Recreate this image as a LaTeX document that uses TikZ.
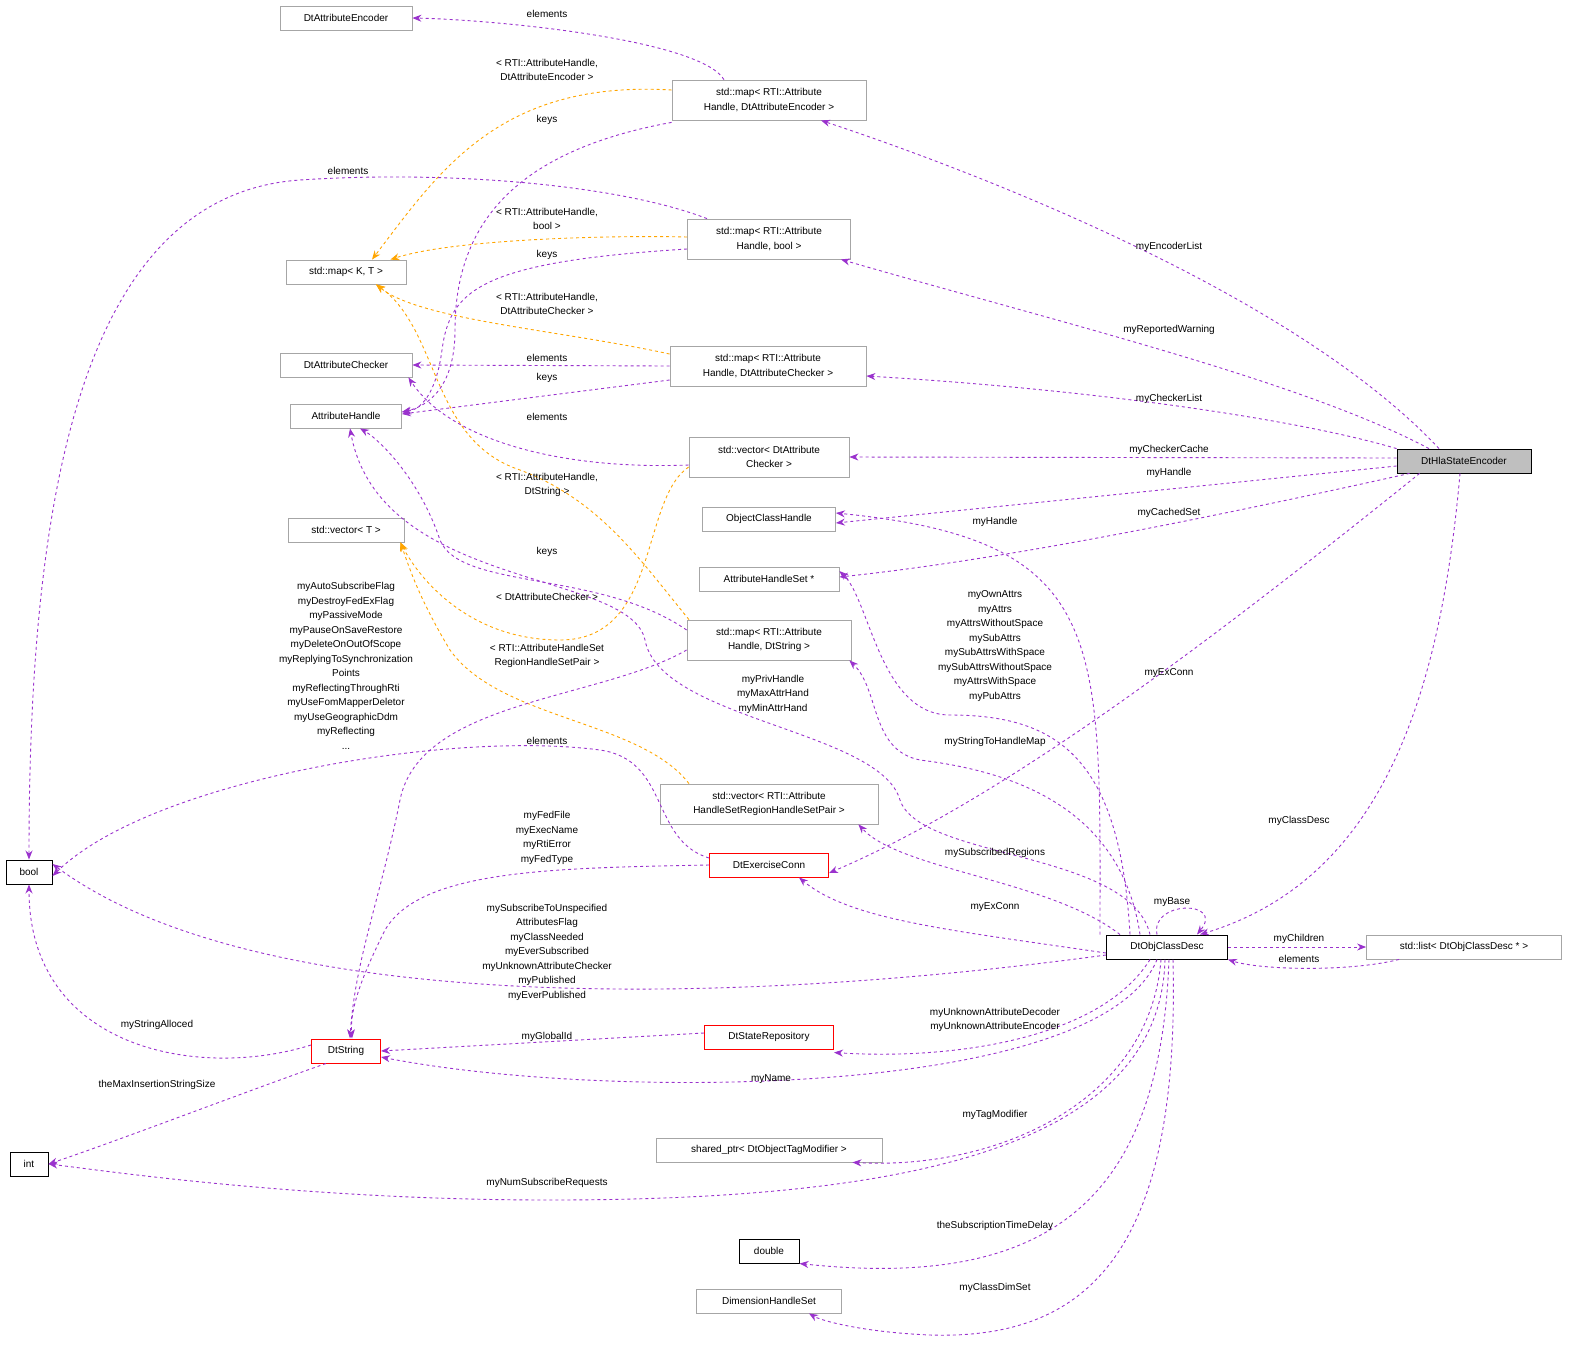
\documentclass[tikz,border=0pt]{standalone}
\usepackage{fontspec}
\setmainfont{Liberation Sans}
\usetikzlibrary{arrows.meta}
\definecolor{pur}{HTML}{9A32CD}
\definecolor{org}{HTML}{FFA500}
\begin{document}
\begin{tikzpicture}[x=1pt,y=-1pt,
  every node/.style={font=\fontsize{10}{14.5}\selectfont},
  box/.style={draw=black!35,fill=white,inner sep=2pt,minimum height=24,align=center,line width=0.8pt},
  box2/.style={box,minimum height=40},
  blk/.style={box,draw=black,line width=1pt},
  red/.style={box,draw=red,line width=1pt},
  e/.style={draw=pur,line width=0.9pt,dashed,-{Stealth[length=9pt,width=7pt]}},
  o/.style={draw=org,line width=0.9pt,dashed,-{Stealth[length=9pt,width=7pt]}},
  lbl/.style={inner sep=0,align=center}]
\useasboundingbox (0,0) rectangle (1573,1347);
% nodes
\node[box,minimum width=132] (enc) at (346,18) {DtAttributeEncoder};
\node[box2,minimum width=194] (menc) at (769,100) {std::map< RTI::Attribute\\Handle, DtAttributeEncoder >};
\node[box,minimum width=120] (mkt) at (346,272) {std::map< K, T >};
\node[box2,minimum width=163] (mbool) at (769,239) {std::map< RTI::Attribute\\Handle, bool >};
\node[box,minimum width=132] (chk) at (346,365) {DtAttributeChecker};
\node[box2,minimum width=196] (mchk) at (768,366) {std::map< RTI::Attribute\\Handle, DtAttributeChecker >};
\node[box,minimum width=111] (ah) at (346,416) {AttributeHandle};
\node[box2,minimum width=160] (vchk) at (769,457) {std::vector< DtAttribute\\Checker >};
\node[box,draw=black,fill=black!25,minimum width=134] (hla) at (1464,461) {DtHlaStateEncoder};
\node[box,minimum width=133] (och) at (769,519) {ObjectClassHandle};
\node[box,minimum width=116] (vt) at (346,530) {std::vector< T >};
\node[box,minimum width=140] (ahs) at (769,579) {AttributeHandleSet *};
\node[box2,minimum width=164] (mstr) at (769,640) {std::map< RTI::Attribute\\Handle, DtString >};
\node[blk,minimum width=46] (bool) at (29,872) {bool};
\node[box2,minimum width=218] (vpair) at (769,804) {std::vector< RTI::Attribute\\HandleSetRegionHandleSetPair >};
\node[red,minimum width=119] (exc) at (769,865) {DtExerciseConn};
\node[blk,minimum width=121] (ocd) at (1167,947) {DtObjClassDesc};
\node[box,minimum width=195] (lst) at (1464,947) {std::list< DtObjClassDesc * >};
\node[red,minimum width=129] (dsr) at (769,1037) {DtStateRepository};
\node[red,minimum width=69] (dstr) at (346,1051) {DtString};
\node[blk,minimum width=38] (int) at (29,1164) {int};
\node[box,minimum width=226] (sp) at (769,1150) {shared\_ptr< DtObjectTagModifier >};
\node[blk,minimum width=60] (dbl) at (769,1251) {double};
\node[box,minimum width=145] (dhs) at (769,1301) {DimensionHandleSet};
% template edges
\draw[o] ([yshift=10]menc.west) .. controls (500,80) and (440,170) .. ([xshift=26]mkt.north);
\draw[o] ([yshift=2]mbool.west) .. controls (600,235) and (450,240) .. ([xshift=-16]mkt.north east);
\draw[o] ([yshift=12]mchk.west) .. controls (560,330) and (420,320) .. ([xshift=30]mkt.south);
\draw[o] ([xshift=-80]mstr.north) .. controls (640,560) and (600,500) .. (520,470) .. controls (430,440) and (440,330) .. ([xshift=30]mkt.south);
\draw[o] ([yshift=-10]vchk.west) .. controls (640,500) and (660,640) .. (560,640) .. controls (470,640) and (420,580) .. ([xshift=-4]vt.south east);
\draw[o] ([xshift=-80]vpair.north) .. controls (640,720) and (500,720) .. (450,650) .. controls (420,600) and (410,570) .. ([xshift=-4]vt.south east);
% member edges
\draw[e] ([xshift=-45]menc.north) .. controls (700,40) and (500,20) .. (enc.east);
\draw[e] ([yshift=-2]menc.south west) .. controls (520,150) and (455,220) .. (455,330) .. controls (455,395) and (420,408) .. ([yshift=4]ah.east);
\draw[e] ([xshift=-62]mbool.north) .. controls (620,185) and (450,170) .. (300,180) .. controls (80,195) and (29,500) .. (bool.north);
\draw[e] ([yshift=-10]mbool.west) .. controls (480,262) and (450,290) .. (442,350) .. controls (436,395) and (420,410) .. ([yshift=4]ah.east);
\draw[e] (mchk.west) -- (chk.east);
\draw[e] ([yshift=-14]mchk.west) -- ([yshift=2]ah.east);
\draw[e] ([yshift=-8]vchk.west) .. controls (560,470) and (450,440) .. ([xshift=-4]chk.south east);
\draw[e] ([yshift=10]mstr.west) .. controls (600,570) and (460,590) .. (440,540) .. controls (420,480) and (380,440) .. ([xshift=14]ah.south);
\draw[e] ([yshift=-10]mstr.west) .. controls (600,700) and (420,700) .. (400,800) .. controls (380,900) and (355,960) .. ([xshift=4]dstr.north);
\draw[e] ([yshift=7]exc.west) .. controls (650,840) and (670,760) .. (600,750) .. controls (450,730) and (150,780) .. ([yshift=-4]bool.east);
\draw[e] (exc.west) .. controls (550,868) and (420,870) .. (385,930) .. controls (360,980) and (350,1010) .. ([xshift=6]dstr.north);
\draw[e] ([yshift=6]dstr.west) .. controls (200,1080) and (29,1050) .. (bool.south);
\draw[e] ([xshift=-20]dstr.south) .. controls (250,1090) and (120,1140) .. (int.east);
\draw[e] ([yshift=4]dsr.west) -- (dstr.east);
\draw[e] ([xshift=-25]hla.north) .. controls (1300,300) and (1000,180) .. ([xshift=52]menc.south);
\draw[e] ([xshift=-35]hla.north) .. controls (1300,380) and (1050,320) .. ([xshift=-10]mbool.south east);
\draw[e] (hla.north west) .. controls (1300,420) and (1100,390) .. ([yshift=-10]mchk.east);
\draw[e] ([yshift=3]hla.west) -- (vchk.east);
\draw[e] ([yshift=-5]hla.west) -- ([yshift=-4]och.east);
\draw[e] ([xshift=13]hla.south west) .. controls (1200,520) and (1000,560) .. ([yshift=2]ahs.east);
\draw[e] ([xshift=23]hla.south west) .. controls (1200,650) and (1000,800) .. ([yshift=-8]exc.east);
\draw[e] ([xshift=-4]hla.south) .. controls (1440,700) and (1380,880) .. ([xshift=33]ocd.north);
\draw[e] ([xshift=-67]ocd.north) .. controls (1100,640) and (1110,540) .. ([yshift=6]och.east);
\draw[e] ([xshift=-37]ocd.north) .. controls (1120,760) and (1060,715) .. (950,715) .. controls (880,715) and (870,600) .. ([yshift=8]ahs.east);
\draw[e] ([xshift=-27]ocd.north) .. controls (1120,800) and (1000,770) .. (920,760) .. controls (870,750) and (880,690) .. ([xshift=-2]mstr.south east);
\draw[e] ([xshift=-17]ocd.north) .. controls (1130,850) and (920,860) .. (900,800) .. controls (880,730) and (660,720) .. (645,640) .. controls (630,570) and (380,590) .. ([xshift=4]ah.south);
\draw[e] ([xshift=-47]ocd.north) .. controls (1050,880) and (900,870) .. ([xshift=-20]vpair.south east);
\draw[e] ([yshift=-6]ocd.west) .. controls (950,930) and (850,920) .. ([xshift=30]exc.south);
\draw[e] ([xshift=-10]ocd.north) .. controls (1150,900) and (1225,900) .. ([xshift=30]ocd.north);
\draw[e] (ocd.east) -- (lst.west);
\draw[e] ([xshift=33]lst.south west) .. controls (1350,972) and (1260,970) .. (ocd.south east);
\draw[e] ([yshift=-8]ocd.west) .. controls (700,1010) and (250,1010) .. ([yshift=8]bool.east);
\draw[e] ([xshift=-17]ocd.south) .. controls (1100,1040) and (950,1060) .. ([yshift=-3]dsr.south east);
\draw[e] ([xshift=-10]ocd.south) .. controls (1100,1100) and (600,1100) .. ([yshift=-6]dstr.east);
\draw[e] ([xshift=-6]ocd.south) .. controls (1150,1100) and (1000,1170) .. ([xshift=-30]sp.south east);
\draw[e] ([xshift=-2]ocd.south) .. controls (1160,1150) and (900,1200) .. (550,1200) .. controls (300,1200) and (100,1170) .. (int.east);
\draw[e] ([xshift=2]ocd.south) .. controls (1160,1200) and (1050,1290) .. (dbl.south east);
\draw[e] ([xshift=6]ocd.south) .. controls (1180,1250) and (1090,1340) .. (930,1335) .. controls (860,1332) and (820,1320) .. ([xshift=40]dhs.south);
% labels
\node[lbl] (l1) at (547,14) {elements};
\node[lbl] (l2) at (547,70) {< RTI::AttributeHandle,\\DtAttributeEncoder >};
\node[lbl] (l3) at (547,120) {keys};
\node[lbl] (l4) at (348,171) {elements};
\node[lbl] (l5) at (547,219) {< RTI::AttributeHandle,\\bool >};
\node[lbl] (l6) at (547,255) {keys};
\node[lbl] (l7) at (547,304) {< RTI::AttributeHandle,\\DtAttributeChecker >};
\node[lbl] (l8) at (547,358) {elements};
\node[lbl] (l9) at (547,378) {keys};
\node[lbl] (l10) at (547,417) {elements};
\node[lbl] (l11) at (547,485) {< RTI::AttributeHandle,\\DtString >};
\node[lbl] (l12) at (547,552) {keys};
\node[lbl] (l13) at (547,597) {< DtAttributeChecker >};
\node[lbl] (l14) at (547,656) {< RTI::AttributeHandleSet\\RegionHandleSetPair >};
\node[lbl] (l15) at (547,741) {elements};
\node[lbl] (l16) at (346,666) {myAutoSubscribeFlag\\myDestroyFedExFlag\\myPassiveMode\\myPauseOnSaveRestore\\myDeleteOnOutOfScope\\myReplyingToSynchronization\\Points\\myReflectingThroughRti\\myUseFomMapperDeletor\\myUseGeographicDdm\\myReflecting\\...};
\node[lbl] (l17) at (547,838) {myFedFile\\myExecName\\myRtiError\\myFedType};
\node[lbl] (l18) at (547,952) {mySubscribeToUnspecified\\AttributesFlag\\myClassNeeded\\myEverSubscribed\\myUnknownAttributeChecker\\myPublished\\myEverPublished};
\node[lbl] (l19) at (157,1025) {myStringAlloced};
\node[lbl] (l20) at (157,1085) {theMaxInsertionStringSize};
\node[lbl] (l21) at (547,1037) {myGlobalId};
\node[lbl] (l22) at (771,1079) {myName};
\node[lbl] (l23) at (547,1183) {myNumSubscribeRequests};
\node[lbl] (l24) at (1169,247) {myEncoderList};
\node[lbl] (l25) at (1169,330) {myReportedWarning};
\node[lbl] (l26) at (1169,399) {myCheckerList};
\node[lbl] (l27) at (1169,450) {myCheckerCache};
\node[lbl] (l28) at (1169,473) {myHandle};
\node[lbl] (l29) at (1169,513) {myCachedSet};
\node[lbl] (l30) at (1169,673) {myExConn};
\node[lbl] (l31) at (1299,821) {myClassDesc};
\node[lbl] (l32) at (995,522) {myHandle};
\node[lbl] (l33) at (995,646) {myOwnAttrs\\myAttrs\\myAttrsWithoutSpace\\mySubAttrs\\mySubAttrsWithSpace\\mySubAttrsWithoutSpace\\myAttrsWithSpace\\myPubAttrs};
\node[lbl] (l34) at (773,694) {myPrivHandle\\myMaxAttrHand\\myMinAttrHand};
\node[lbl] (l35) at (995,742) {myStringToHandleMap};
\node[lbl] (l36) at (995,853) {mySubscribedRegions};
\node[lbl] (l37) at (995,907) {myExConn};
\node[lbl] (l38) at (1172,902) {myBase};
\node[lbl] (l39) at (1299,939) {myChildren};
\node[lbl] (l40) at (1299,959) {elements};
\node[lbl] (l41) at (995,1020) {myUnknownAttributeDecoder\\myUnknownAttributeEncoder};
\node[lbl] (l42) at (995,1115) {myTagModifier};
\node[lbl] (l43) at (995,1226) {theSubscriptionTimeDelay};
\node[lbl] (l44) at (995,1288) {myClassDimSet};
\end{tikzpicture}
\end{document}
